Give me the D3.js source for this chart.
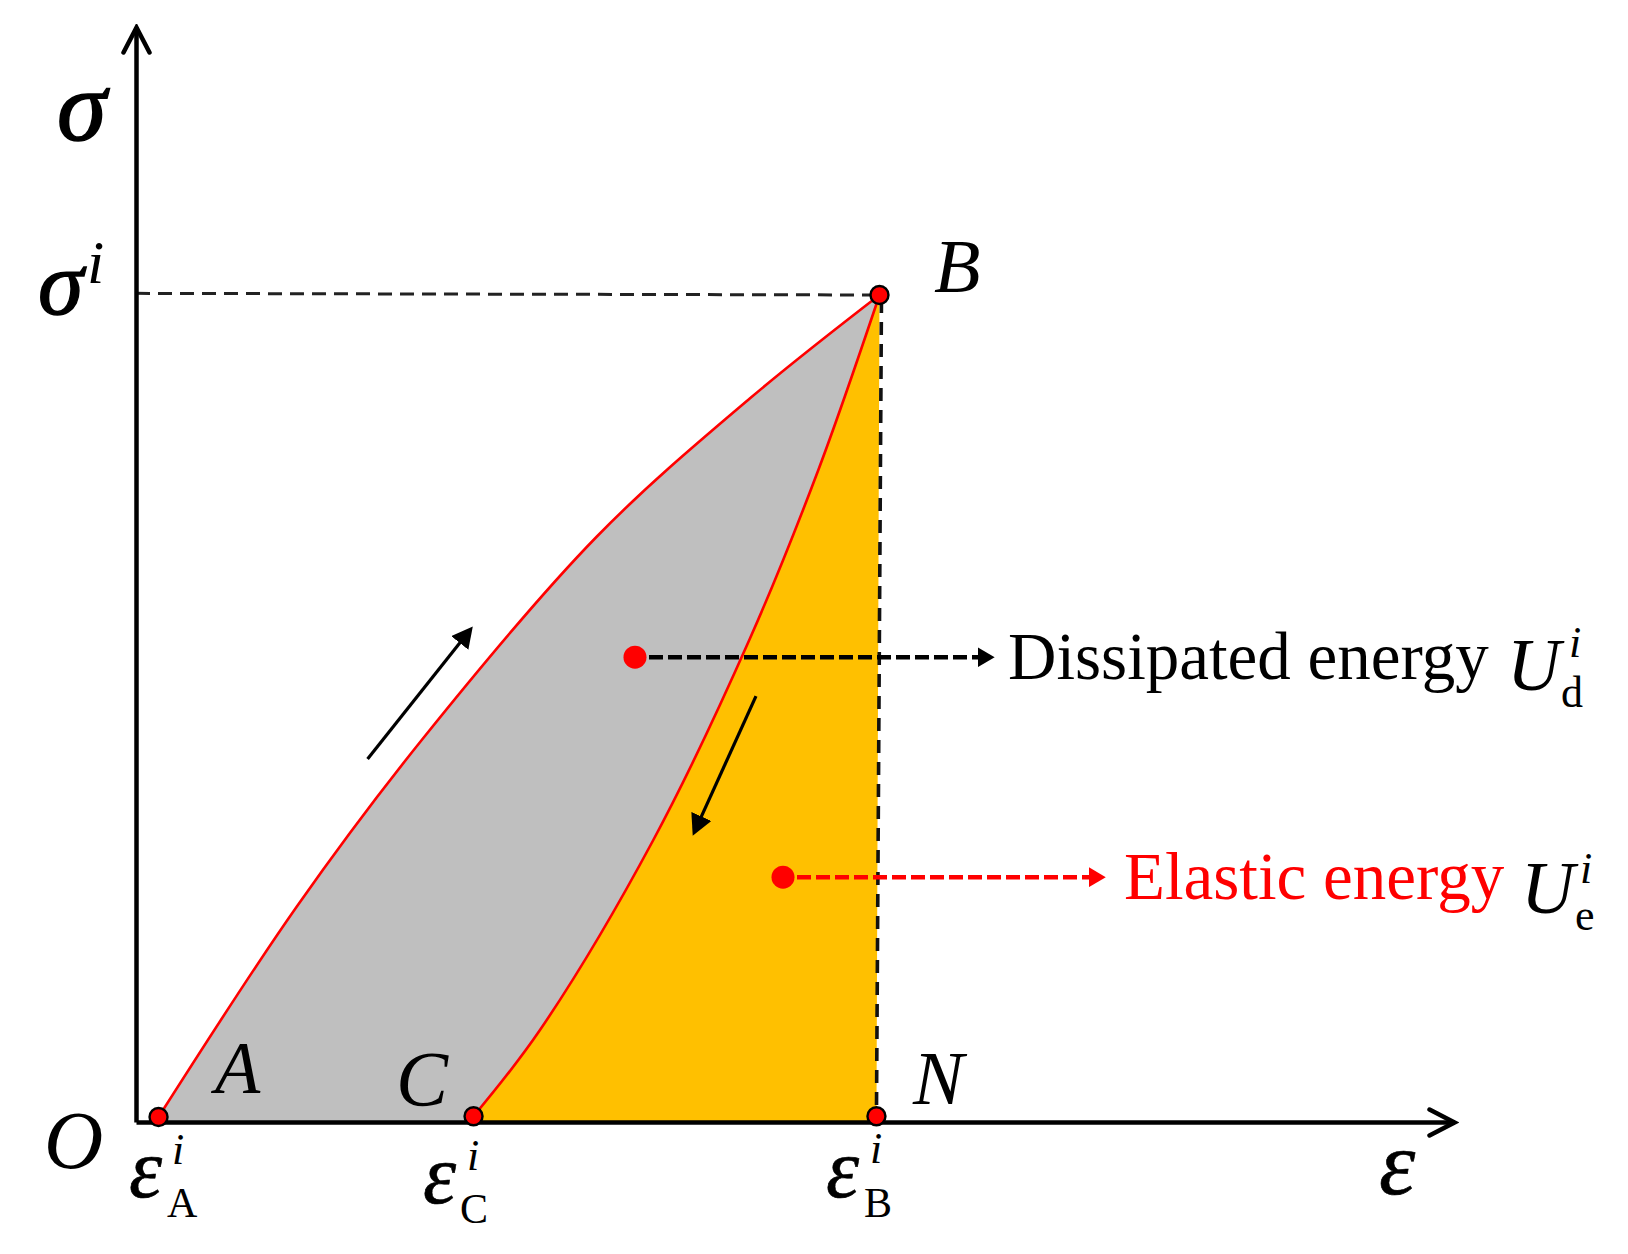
<!DOCTYPE html>
<html>
<head>
<meta charset="utf-8">
<script src="https://cdn.jsdelivr.net/npm/d3@7"></script>
<style>
  html, body { margin: 0; padding: 0; background: #fff; }
  svg { display: block; }
  text { font-family: "Liberation Serif", serif; }
</style>
</head>
<body>
<svg id="chart"></svg>
<script>
// values as fractions: strain of the axis length, stress of sigma^i
const loadingStrain = [0.0171, 0.1219, 0.2168, 0.3495, 0.4659, 0.5641];
const loadingStress = [0.006, 0.2603, 0.4619, 0.7077, 0.8751, 1.0];
const unloadingStrain = [0.5641, 0.5177, 0.4659, 0.3925, 0.3065, 0.2561];
const unloadingStress = [1.0, 0.7884, 0.5849, 0.341, 0.1112, 0.007];

const pointNames = ["A", "B", "C", "N"];
const pointStrain = [0.0171, 0.5641, 0.2561, 0.5618];
const pointStress = [0.006, 1.0, 0.007, 0.007];

const energyNames = ["Dissipated energy", "Elastic energy"];
const energyDotStrain = [0.3786, 0.4909];
const energyDotStress = [0.562, 0.296];
const energyTipStrain = [0.6517, 0.736];
const energyColors = ["#000000", "#ff0000"];

const flowFromStrain = [0.1757, 0.4704];
const flowFromStress = [0.439, 0.515];
const flowToStrain = [0.2555, 0.4226];
const flowToStress = [0.599, 0.347];

const width = 1628, height = 1254;
const x = d3.scaleLinear().domain([0, 1]).range([136, 1454]);
const y = d3.scaleLinear().domain([0, 1]).range([1122, 295]);
const yMax = y.invert(27);

const svg = d3.select("#chart").attr("width", width).attr("height", height);
const defs = svg.append("defs");

function addMarker(id, len, half, pullBack, color) {
    defs.append("marker")
        .attr("id", id)
        .attr("markerUnits", "userSpaceOnUse")
        .attr("viewBox", `0 ${-half} ${len} ${half * 2}`)
        .attr("markerWidth", len)
        .attr("markerHeight", half * 2)
        .attr("refX", len - pullBack)
        .attr("refY", 0)
        .attr("orient", "auto")
        .append("path")
        .attr("d", `M0,${-half} L${len},0 L0,${half} z`)
        .attr("fill", color);
}
addMarker("headFlow", 21, 11, 6, "#000");
addMarker("headBlack", 17, 10, 5, "#000");
addMarker("headRed", 17, 10, 5, "#f00");
defs.append("marker")
    .attr("id", "headAxis")
    .attr("markerUnits", "userSpaceOnUse")
    .attr("viewBox", "-30 -16 34 32")
    .attr("markerWidth", 34)
    .attr("markerHeight", 32)
    .attr("refX", 0)
    .attr("refY", 0)
    .attr("orient", "auto")
    .append("path")
    .attr("d", "M-25,-13 L0,0 L-25,13")
    .attr("fill", "none")
    .attr("stroke", "#000")
    .attr("stroke-width", 4.5)
    .attr("stroke-linecap", "round");

const loading = loadingStrain.map((d, i) => [d, loadingStress[i]]);
const unloading = unloadingStrain.map((d, i) => [d, unloadingStress[i]]);

const curve = d3.line().x(d => x(d[0])).y(d => y(d[1])).curve(d3.curveCatmullRom.alpha(0.5));
const straight = d3.line().x(d => x(d[0])).y(d => y(d[1]));

// fills: grey between the two branches, orange under the unloading branch
const greyPath = curve(loading) + "L" + curve(unloading).slice(1) + `L${x(pointStrain[2])},${y(0)} L${x(pointStrain[0])},${y(0)} Z`;
const orangePath = curve(unloading) + `L${x(pointStrain[2])},${y(0)} L${x(pointStrain[3])},${y(0)} L${x(pointStrain[1])},${y(pointStress[1])} Z`;

svg.append("path").attr("d", orangePath).attr("fill", "#FFC000");
svg.append("path").attr("d", greyPath).attr("fill", "#BFBFBF");

// dashed guides
svg.append("path")
    .attr("d", straight([[0, 1.002], [pointStrain[1], 1.0]]))
    .attr("fill", "none").attr("stroke", "#222").attr("stroke-width", 3).attr("stroke-dasharray", "14 8");
svg.append("path")
    .attr("d", straight([[0.5656, 0.994], [pointStrain[3], pointStress[3]]]))
    .attr("fill", "none").attr("stroke", "#111").attr("stroke-width", 3.6).attr("stroke-dasharray", "13 9");

// axes, no ticks, arrow heads on the domain lines
svg.append("g").attr("transform", `translate(0,${y(0)})`)
    .call(d3.axisBottom(x).tickValues([]).tickSizeOuter(0))
    .select(".domain").attr("stroke", "#000").attr("stroke-width", 4.5).attr("marker-end", "url(#headAxis)");
svg.append("g").attr("transform", `translate(${x(0)},0)`)
    .call(d3.axisLeft(y.copy().domain([0, yMax]).range([y(0), 27])).tickValues([]).tickSizeOuter(0))
    .select(".domain").attr("stroke", "#000").attr("stroke-width", 4.5).attr("marker-end", "url(#headAxis)");

// red curve
[loading, unloading].forEach(c => {
    svg.append("path").attr("d", curve(c)).attr("fill", "none").attr("stroke", "#ff0000").attr("stroke-width", 2.6);
});

// flow direction arrows
flowFromStrain.forEach((d, i) => {
    const dx = flowToStrain[i] - d, dy = flowToStress[i] - flowFromStress[i];
    const k = 0.965; // the head carries the rest of the length
    svg.append("path")
        .attr("d", straight([[d, flowFromStress[i]], [d + dx * k, flowFromStress[i] + dy * k]]))
        .attr("fill", "none").attr("stroke", "#000").attr("stroke-width", 3.2)
        .attr("marker-end", "url(#headFlow)");
});

// energy callouts
energyNames.forEach((name, i) => {
    svg.append("path")
        .attr("d", straight([[energyDotStrain[i], energyDotStress[i]], [energyTipStrain[i] - 0.004, energyDotStress[i]]]))
        .attr("fill", "none").attr("stroke", energyColors[i]).attr("stroke-width", 4.4).attr("stroke-dasharray", "14 5")
        .attr("stroke-dashoffset", -14)
        .attr("marker-end", i === 0 ? "url(#headBlack)" : "url(#headRed)");
    svg.append("circle")
        .attr("cx", x(energyDotStrain[i])).attr("cy", y(energyDotStress[i])).attr("r", 11.5)
        .attr("fill", "#ff0000");
});

svg.selectAll(".point")
    .data(pointNames)
    .enter()
    .append("circle")
    .attr("class", "point")
    .attr("cx", (d, i) => x(pointStrain[i]))
    .attr("cy", (d, i) => y(pointStress[i]))
    .attr("r", 9)
    .attr("fill", "#ff0000")
    .attr("stroke", "#000")
    .attr("stroke-width", 2.4);

// text: [string, x, baseline, size, italic, color, outline]
const labelRows = [
    ["σ", 57, 140, 100, true, "#000", 1.6],
    ["σ", 38, 314, 92, true, "#000", 1.4],
    ["i", 87, 283, 62, true, "#000", 0],
    ["O", 44, 1168, 82, true, "#000", 0],
    ["A", 215, 1093, 74, true, "#000", 0],
    ["C", 396, 1105, 78, true, "#000", 0],
    ["N", 913, 1104, 76, true, "#000", 0],
    ["B", 934, 292, 76, true, "#000", 0],
    ["ε", 129, 1197, 84, true, "#000", 0.6],
    ["i", 172, 1164, 44, true, "#000", 0],
    ["A", 167, 1217, 42, false, "#000", 0],
    ["ε", 423, 1203, 84, true, "#000", 0.6],
    ["i", 467, 1170, 44, true, "#000", 0],
    ["C", 460, 1223, 42, false, "#000", 0],
    ["ε", 826, 1197, 84, true, "#000", 0.6],
    ["i", 870, 1163, 44, true, "#000", 0],
    ["B", 864, 1217, 42, false, "#000", 0],
    ["ε", 1379, 1194, 92, true, "#000", 0.6],
    [energyNames[0], 1008, 679, 67, false, "#000", 0],
    ["U", 1507, 690, 74, true, "#000", 0],
    ["i", 1569, 657, 44, true, "#000", 0],
    ["d", 1561, 707, 44, false, "#000", 0],
    [energyNames[1], 1124, 899, 67, false, "#f00", 0],
    ["U", 1521, 913, 74, true, "#000", 0],
    ["i", 1580, 883, 44, true, "#000", 0],
    ["e", 1575, 930, 44, false, "#000", 0]
];

svg.selectAll(".label")
    .data(labelRows)
    .enter()
    .append("text")
    .attr("class", "label")
    .attr("x", d => d[1])
    .attr("y", d => d[2])
    .attr("font-size", d => d[3])
    .attr("font-style", d => d[4] ? "italic" : "normal")
    .attr("fill", d => d[5])
    .attr("stroke", d => d[6] ? d[5] : "none")
    .attr("stroke-width", d => d[6])
    .text(d => d[0]);
</script>
</body>
</html>
